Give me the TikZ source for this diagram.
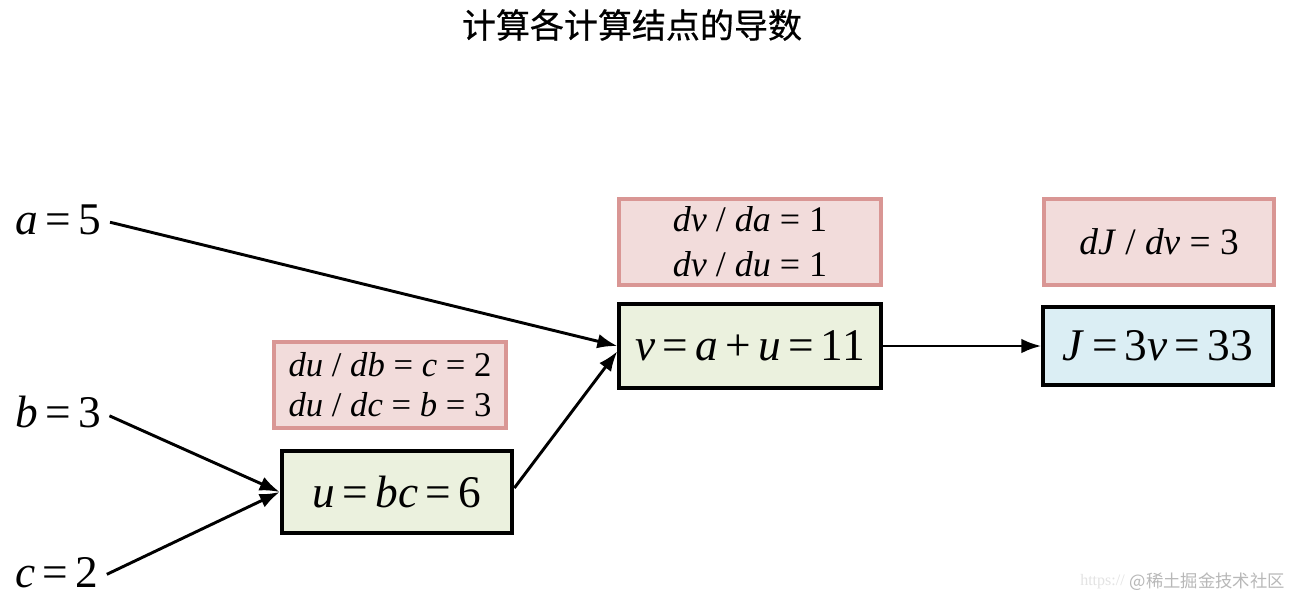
\documentclass[tikz,border=0pt]{standalone}
\usepackage{fontspec}
\setmainfont{Liberation Serif}
\newfontfamily\cjk[FakeBold=0.6]{Noto Sans CJK SC}
\newfontfamily\cjkwm{Noto Sans CJK SC}
\usetikzlibrary{arrows.meta}
\definecolor{calcgreen}{HTML}{EBF1DE}
\definecolor{calcblue}{HTML}{DBEEF4}
\definecolor{derivfill}{HTML}{F2DCDB}
\definecolor{derivborder}{HTML}{D99694}
\definecolor{wmgray}{HTML}{B8B8B8}
\newcommand{\iv}[1]{\textit{#1}}
\newcommand{\op}[1]{\hspace{0.16em}#1\hspace{0.16em}}
\begin{document}
\begin{tikzpicture}[x=0.75pt,y=-0.75pt,
  calcbox/.style={draw=black, line width=3pt, inner sep=0pt, font=\fontsize{34}{40}\selectfont},
  derivbox/.style={draw=derivborder, line width=3pt, fill=derivfill, inner sep=0pt, align=center},
  varlabel/.style={font=\fontsize{34}{40}\selectfont, inner sep=0pt, anchor=west},
  conn/.style={line width=2.2pt, -{Latex[length=15pt,width=11pt]}}]
\useasboundingbox (0,0) rectangle (1291,601);
\fill[white] (0,0) rectangle (1291,601);

\node[font=\cjk\fontsize{25.5}{30}\selectfont] (title) at (632,25) {计算各计算结点的导数};

\node[varlabel] (a) at (15,220) {\iv{a}\op{=}5};
\node[varlabel] (b) at (15,412) {\iv{b}\op{=}3};
\node[varlabel] (c) at (15,573) {\iv{c}\op{=}2};

\node[calcbox, fill=calcgreen, minimum width=173pt, minimum height=61pt] (u) at (397,492) {\iv{u}\op{=}\iv{bc}\op{=}6};
\node[derivbox, minimum width=174pt, minimum height=64pt, font=\fontsize{26}{30}\selectfont] (du) at (390,385) {\iv{du} / \iv{db} = \iv{c} = 2\\ \iv{du} / \iv{dc} = \iv{b} = 3};

\node[calcbox, fill=calcgreen, minimum width=196pt, minimum height=63pt] (v) at (750,346) {\iv{v}\op{=}\iv{a}\op{+}\iv{u}\op{=}11};
\node[derivbox, minimum width=196pt, minimum height=64pt, font=\fontsize{27}{34}\selectfont] (dv) at (750,242) {\iv{dv} / \iv{da} = 1\\ \iv{dv} / \iv{du} = 1};

\node[calcbox, fill=calcblue, minimum width=172pt, minimum height=59pt] (J) at (1158,346) {\iv{J}\op{=}3\iv{v}\op{=}33};
\node[derivbox, minimum width=173pt, minimum height=64pt, font=\fontsize{28}{34}\selectfont] (dJ) at (1159,242) {\iv{dJ} / \iv{dv} = 3};

\draw[conn, shorten <=7pt] (a.east) -- (v.west);
\draw[conn, shorten <=7pt] (b.east) -- (u.west);
\draw[conn, shorten <=7pt] ([yshift=-4pt]c.east) -- (u.west);
\draw[conn] ([yshift=3pt]u.east) -- ([yshift=-4pt]v.west);
\draw[conn] (v.east) -- (J.west);

\node[anchor=east, inner sep=0pt, font=\fontsize{12}{14}\selectfont, text=wmgray!40] (wmurl) at (1125,582) {https://};
\node[anchor=east, inner sep=0pt, font=\cjkwm\fontsize{13}{15}\selectfont, text=wmgray] (wm) at (1285,582) {@稀土掘金技术社区};
\end{tikzpicture}
\end{document}
